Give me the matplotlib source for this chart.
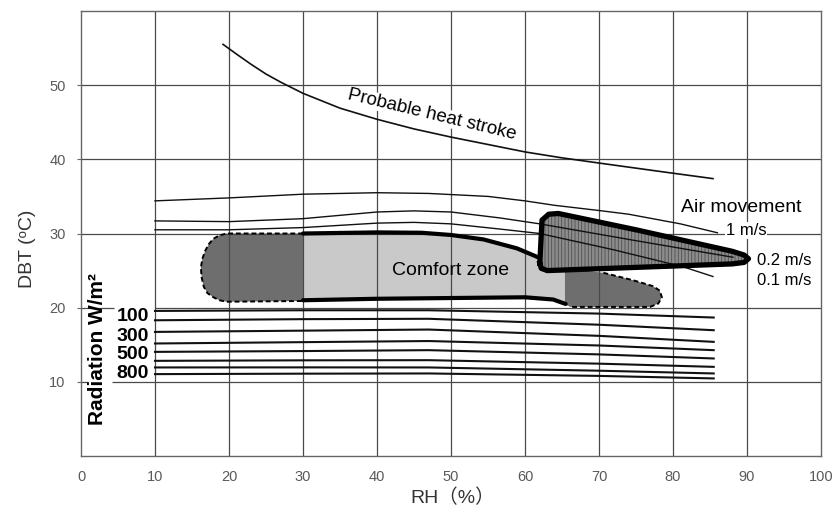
import matplotlib
matplotlib.use("Agg")
import matplotlib.pyplot as plt

plt.rcParams['font.family'] = ['Liberation Sans', 'DejaVu Sans', 'Noto Sans CJK SC']
plt.rcParams['hatch.linewidth'] = 0.6

# probable heat stroke curve
hs_rh = [19.2, 21, 23, 25, 27, 30, 35, 40, 45, 50, 55, 60, 65, 70, 78, 85.4]
hs_dbt = [55.5, 54.2, 52.8, 51.5, 50.4, 48.9, 46.9, 45.4, 44.1, 43.0, 42.0, 41.0, 40.2, 39.5, 38.4, 37.4]

# air movement lines
air1_rh = [10, 20, 30, 40, 47, 55, 60, 64, 70, 74, 81, 86]
air1_dbt = [34.4, 34.8, 35.3, 35.5, 35.4, 35.0, 34.4, 33.8, 33.1, 32.6, 31.3, 30.1]
air02_rh = [10, 20, 30, 40, 45, 50, 56.6, 62, 74.6, 88.1]
air02_dbt = [31.7, 31.6, 32.0, 32.9, 33.05, 32.9, 32.1, 31.3, 29.1, 26.8]
air01_rh = [10, 20, 30, 40, 45, 50, 56.6, 62, 72, 81.4, 85.4]
air01_dbt = [30.5, 30.5, 30.8, 31.4, 31.5, 31.3, 30.6, 30.0, 27.8, 25.5, 24.2]

# radiation lines (100 ... 800 W/m2)
rad_rh = [10, 30, 47, 70, 85.5]
rad_dbt = [
    [19.56, 19.65, 19.65, 19.2, 18.67],
    [18.30, 18.45, 18.5, 17.7, 16.96],
    [16.73, 16.9, 17.05, 16.2, 15.39],
    [15.17, 15.35, 15.5, 14.9, 14.27],
    [14.04, 14.15, 14.27, 13.7, 13.15],
    [12.83, 12.9, 12.92, 12.45, 12.02],
    [11.94, 11.95, 11.94, 11.5, 11.13],
    [11.04, 11.1, 11.13, 10.8, 10.46],
]
rad_labels = ['100', '300', '500', '800']
rad_label_dbt = [18.75, 16.15, 13.7, 11.1]

# comfort zone (light) and its extensions (dark)
comfort_rh = [30, 40, 46, 50, 54.4, 58.9, 62, 65.5, 65.5, 63.8, 60, 50, 40, 30]
comfort_dbt = [30.0, 30.15, 30.1, 29.8, 29.2, 28.0, 26.7, 25.6, 20.5, 21.1, 21.4, 21.3, 21.2, 21.0]
left_rh = [30, 19.7, 18.7, 17.9, 17.3, 16.8, 16.4, 16.2, 16.3, 16.6, 17.1, 17.9, 18.7, 19.7, 30]
left_dbt = [30.0, 30.0, 29.75, 29.3, 28.6, 27.7, 26.6, 25.4, 24.1, 22.8, 21.95, 21.4, 21.0, 20.8, 20.9]
right_rh = [65.4, 70.6, 74.6, 77.3, 78.2, 78.5, 78.0, 76.9, 66.1, 65.4]
right_dbt = [25.3, 24.7, 23.7, 22.9, 22.3, 21.4, 20.55, 20.1, 20.1, 20.5]

# air movement zone
am_rh = [62.0, 62.3, 63.2, 64.5, 75, 88, 89.6, 90.2, 89.6, 88, 63.0, 62.2, 62.0]
am_dbt = [26.0, 31.8, 32.6, 32.7, 30.5, 27.6, 27.1, 26.6, 26.1, 25.9, 25.0, 25.3, 26.0]

fig = plt.figure(figsize=(8.33, 5.17), dpi=100)
ax = fig.add_axes([81 / 833, 61 / 517, 740 / 833, 445 / 517])
ax.set_xlim(0, 100)
ax.set_ylim(0, 60)

grid_c = '#4a4a4a'
for x in range(10, 100, 10):
    ax.vlines(x, 0, 60, color=grid_c, lw=0.9, zorder=2)
for y in (30, 40, 50):
    ax.hlines(y, 0, 100, color=grid_c, lw=0.9, zorder=2)
ax.hlines(20, 0, 4.5, color=grid_c, lw=0.9, zorder=2)
ax.hlines(20, 10, 100, color=grid_c, lw=0.9, zorder=2)
ax.hlines(10, 0, 1.0, color=grid_c, lw=0.9, zorder=2)
ax.hlines(10, 4.2, 100, color=grid_c, lw=0.9, zorder=2)

# zones
ax.fill(comfort_rh, comfort_dbt, color='#c9c9c9', lw=0, zorder=1)
ax.fill(left_rh, left_dbt, color='#6e6e6e', lw=0, zorder=1)
ax.fill(right_rh, right_dbt, color='#6e6e6e', lw=0, zorder=1)
ax.plot(left_rh, left_dbt, color='black', lw=1.4, ls=(0, (2.5, 1.5)), zorder=3)
ax.plot(right_rh[1:9], right_dbt[1:9], color='black', lw=1.4, ls=(0, (2.5, 1.5)), zorder=3)
ax.plot(comfort_rh[:7], comfort_dbt[:7], color='black', lw=3, solid_capstyle='round', zorder=3)
ax.plot(comfort_rh[8:], comfort_dbt[8:], color='black', lw=3, solid_capstyle='round', zorder=3)

ax.fill(am_rh, am_dbt, facecolor='#8c8c8c', edgecolor='#505050', hatch='|||||', lw=0, zorder=3.5)

# lines
ax.plot(hs_rh, hs_dbt, color='#111111', lw=1.2, zorder=4)
for xs, ys in ((air1_rh, air1_dbt), (air02_rh, air02_dbt), (air01_rh, air01_dbt)):
    ax.plot(xs, ys, color='#111111', lw=1.0, zorder=4)
for ys in rad_dbt:
    ax.plot(rad_rh, ys, color='#111111', lw=1.5, zorder=4)

ax.plot(am_rh, am_dbt, color='black', lw=3.8, solid_joinstyle='round', zorder=5)

# texts
ax.text(47.4, 46.0, 'Probable heat stroke', fontsize=13.5, rotation=-13.5,
        ha='center', va='center', zorder=6,
        bbox=dict(fc='white', ec='none', pad=0.3))
ax.text(50.0, 25.0, 'Comfort zone', fontsize=14, ha='center', va='center', zorder=6)
ax.text(89.2, 33.5, 'Air movement', fontsize=14, ha='center', va='center', zorder=6)
ax.text(89.9, 30.4, '1 m/s', fontsize=12, ha='center', va='center', zorder=6,
        bbox=dict(fc='white', ec='none', pad=0.5))
ax.text(95.0, 26.4, '0.2 m/s', fontsize=12, ha='center', va='center', zorder=6)
ax.text(95.0, 23.6, '0.1 m/s', fontsize=12, ha='center', va='center', zorder=6)
for lab, y in zip(rad_labels, rad_label_dbt):
    ax.text(7.0, y, lab, fontsize=14, fontweight='bold', ha='center', va='center', zorder=6)
ax.text(2.2, 14.4, 'Radiation W/m²', fontsize=15, fontweight='bold', rotation=90,
        ha='center', va='center', zorder=6)

ax.set_xticks(range(0, 101, 10))
ax.set_yticks(range(10, 51, 10))
ax.tick_params(axis='x', length=0, pad=10, labelsize=10.5, labelcolor='#5a5a5a')
ax.tick_params(axis='y', length=3, pad=8, labelsize=10.5, labelcolor='#5a5a5a', color='#666666')
for s in ax.spines.values():
    s.set_color('#666666')
    s.set_linewidth(1.0)

fig.text(453 / 833, 1 - 498 / 517, 'RH（%）', fontsize=14, ha='center', va='center', color='#333333')
fig.text(27 / 833, 1 - 249 / 517, 'DBT (ᵒC)', fontsize=14, rotation=90,
         ha='center', va='center', color='#333333')

fig.savefig('out.png', dpi=100, facecolor='white')
